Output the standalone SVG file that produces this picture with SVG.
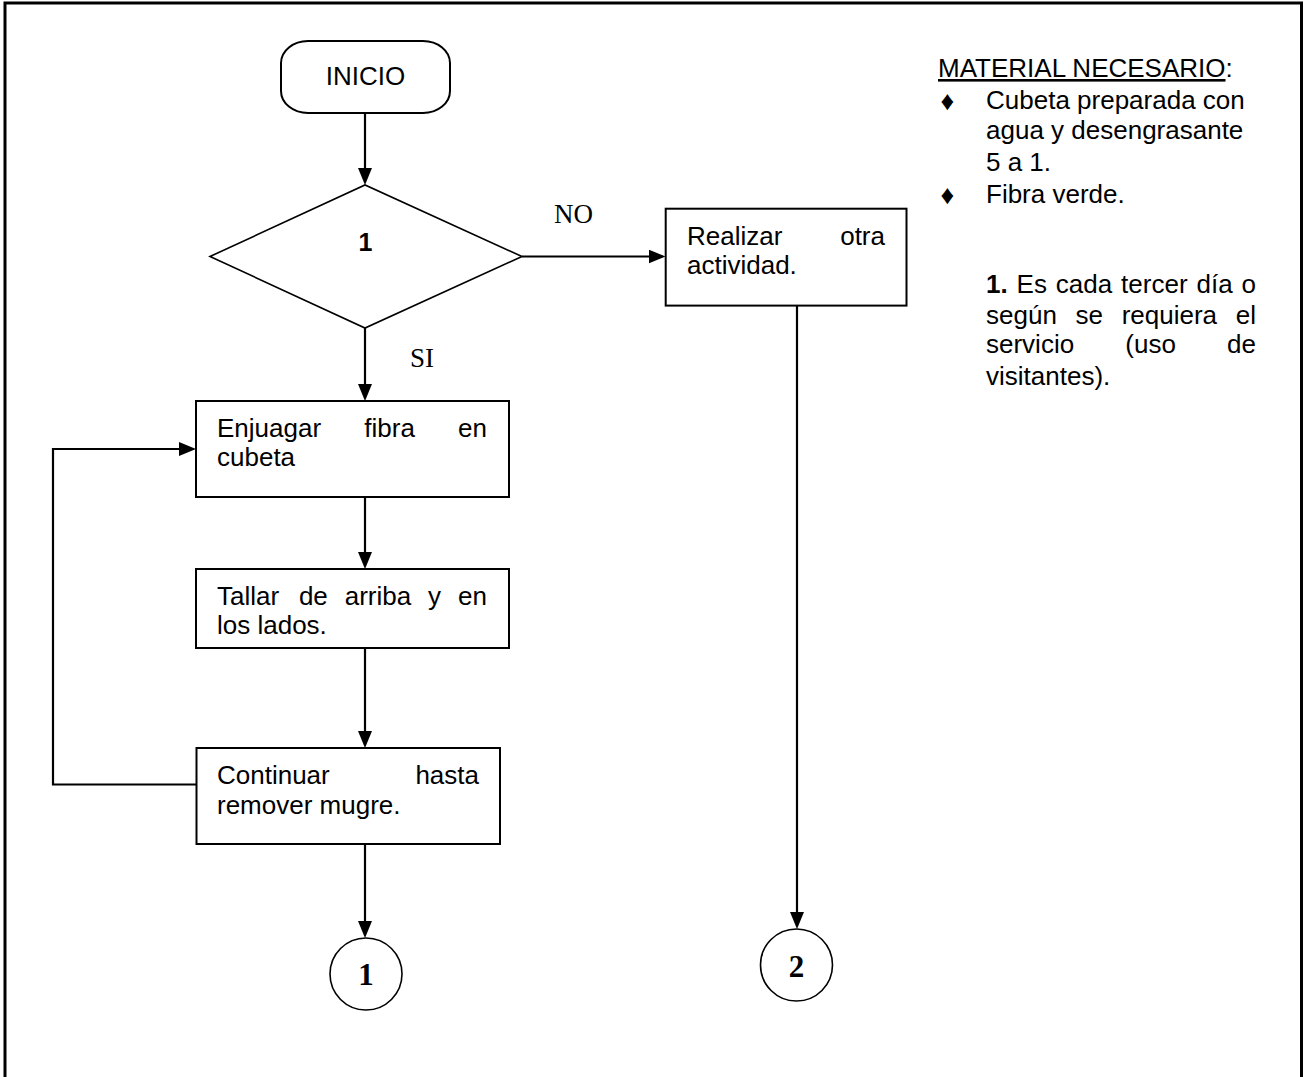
<svg xmlns="http://www.w3.org/2000/svg" width="1304" height="1077" viewBox="0 0 1304 1077">
<style>
  .shape { fill: #fff; stroke: #000; stroke-width: 2; }
  .thin { fill: #fff; stroke: #000; stroke-width: 1.6; }
  .conn { fill: none; stroke: #000; stroke-width: 2.2; }
  .t { font-family: "Liberation Sans", Arial, sans-serif; font-size: 26px; fill: #000; }
  .b { font-weight: bold; }
  .serif { font-family: "Liberation Serif", "Times New Roman", serif; font-size: 27px; fill: #000; }
  .num { font-family: "Liberation Serif", "Times New Roman", serif; font-size: 31px; font-weight: bold; fill: #000; text-anchor: middle; }
  .bullet { font-family: "Liberation Sans", Arial, sans-serif; font-size: 27px; fill: #000; text-anchor: middle; }
</style>
<defs>
  <marker id="arrow" markerUnits="userSpaceOnUse" markerWidth="18" markerHeight="14" refX="14" refY="7" orient="auto">
    <path d="M0,0 L17,7 L0,14 z" fill="#000"/>
  </marker>
</defs>
<rect x="0" y="0" width="1304" height="1077" fill="#fff"/>
<path id="frame" d="M5,1080 V3 H1301.5 V1080" fill="none" stroke="#000" stroke-width="3"/>

<g id="connectors">
  <path class="conn" d="M365,113 V182" marker-end="url(#arrow)"/>
  <path class="conn" d="M365,328 V398" marker-end="url(#arrow)"/>
  <path class="conn" d="M522,256.5 H662.5" marker-end="url(#arrow)"/>
  <path class="conn" d="M797,305.6 V926" marker-end="url(#arrow)"/>
  <path class="conn" d="M365,497 V566" marker-end="url(#arrow)"/>
  <path class="conn" d="M365,648 V745" marker-end="url(#arrow)"/>
  <path class="conn" d="M365,844 V935" marker-end="url(#arrow)"/>
  <path class="conn" d="M196,784.5 H53 V449 H193" marker-end="url(#arrow)"/>
</g>

<g id="inicio">
  <rect class="shape" x="281" y="41" width="169" height="72" rx="27" ry="22"/>
  <text class="t" x="365.5" y="84.5" text-anchor="middle">INICIO</text>
</g>

<g id="decision">
  <polygon class="thin" points="210,256.5 365,185 522,256.5 365,328"/>
  <text class="t b" x="365.5" y="251" text-anchor="middle" style="font-size:25px">1</text>
</g>

<g id="label-no">
  <text class="serif" x="554" y="222.5">NO</text>
</g>
<g id="label-si">
  <text class="serif" x="410" y="367">SI</text>
</g>

<g id="realizar">
  <rect class="shape" x="665.7" y="208.7" width="240.8" height="96.9"/>
  <text class="t" y="245"><tspan x="687">Realizar</tspan><tspan x="885" text-anchor="end">otra</tspan></text>
  <text class="t" x="687" y="274">actividad.</text>
</g>

<g id="enjuagar">
  <rect class="shape" x="196" y="401" width="313" height="96"/>
  <text class="t" y="437"><tspan x="217">Enjuagar</tspan><tspan x="364.3">fibra</tspan><tspan x="487" text-anchor="end">en</tspan></text>
  <text class="t" x="217" y="466">cubeta</text>
</g>

<g id="tallar">
  <rect class="shape" x="196" y="569" width="313" height="79"/>
  <text class="t" y="605"><tspan x="217">Tallar</tspan><tspan x="298.9">de</tspan><tspan x="344.7">arriba</tspan><tspan x="428.1">y</tspan><tspan x="487" text-anchor="end">en</tspan></text>
  <text class="t" x="217" y="634">los lados.</text>
</g>

<g id="continuar">
  <rect class="shape" x="196.5" y="748" width="303.5" height="96"/>
  <text class="t" y="783.7"><tspan x="217">Continuar</tspan><tspan x="479" text-anchor="end">hasta</tspan></text>
  <text class="t" x="217" y="813.7">remover mugre.</text>
</g>

<g id="conector-1">
  <circle class="thin" cx="366" cy="974" r="36"/>
  <text class="num" x="366" y="985">1</text>
</g>

<g id="conector-2">
  <circle class="thin" cx="796.5" cy="965" r="36"/>
  <text class="num" x="796.5" y="977">2</text>
</g>

<g id="notas">
  <text class="t" x="938" y="77"><tspan style="text-decoration:underline">MATERIAL NECESARIO</tspan>:</text>
  <text class="bullet" x="947.5" y="110">♦</text>
  <text class="t" x="986" y="109">Cubeta preparada con</text>
  <text class="t" x="986" y="139">agua y desengrasante</text>
  <text class="t" x="986" y="170.5">5 a 1.</text>
  <text class="bullet" x="947.5" y="204">♦</text>
  <text class="t" x="986" y="203">Fibra verde.</text>
  <text class="t" y="293"><tspan x="986" class="b">1.</tspan><tspan x="1016.6">Es</tspan><tspan x="1055.8">cada</tspan><tspan x="1121.1">tercer</tspan><tspan x="1196.5">día</tspan><tspan x="1256" text-anchor="end">o</tspan></text>
  <text class="t" y="323.5"><tspan x="986">según</tspan><tspan x="1075.5">se</tspan><tspan x="1121.7">requiera</tspan><tspan x="1256" text-anchor="end">el</tspan></text>
  <text class="t" y="353.4"><tspan x="986">servicio</tspan><tspan x="1125.3">(uso</tspan><tspan x="1256" text-anchor="end">de</tspan></text>
  <text class="t" x="986" y="384.6">visitantes).</text>
</g>
</svg>
